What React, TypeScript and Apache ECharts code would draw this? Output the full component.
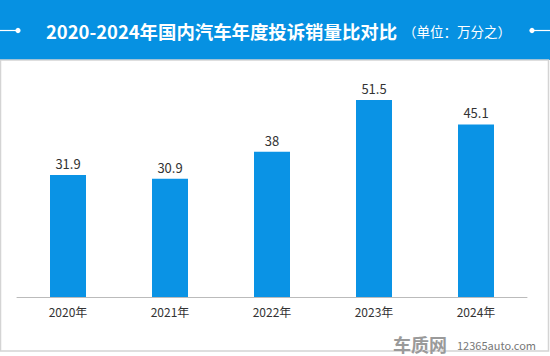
import React, { useEffect, useRef } from "react";
import * as echarts from "echarts";

const categories = ["2020年", "2021年", "2022年", "2023年", "2024年"];
const values = [31.9, 30.9, 38, 51.5, 45.1];
const title = "2020-2024年国内汽车年度投诉销量比对比";
const unit = "（单位：万分之）";

export default function App() {
  const ref = useRef<HTMLDivElement>(null);
  useEffect(() => {
    if (!ref.current) return;
    const chart = echarts.init(ref.current, undefined, { renderer: "svg" });
    const font = "'Noto Sans CJK SC', 'Noto Sans', sans-serif";
    chart.setOption({
      animation: false,
      backgroundColor: "#ffffff",
      grid: { left: 17, right: 23, top: 67.5, bottom: 59 },
      xAxis: {
        type: "category",
        data: categories,
        axisLine: { lineStyle: { color: "#bbbbbb", width: 1 } },
        axisTick: { show: false },
        axisLabel: { color: "#333333", fontSize: 12, margin: 8, fontFamily: font },
      },
      yAxis: { type: "value", min: 0, max: 60, show: false, splitLine: { show: false } },
      series: [
        {
          type: "bar",
          data: values,
          barWidth: 36,
          itemStyle: { color: "#0a93e5" },
          label: {
            show: true,
            position: "top",
            distance: 5,
            color: "#333333",
            fontSize: 13,
            fontFamily: font,
          },
        },
      ],
      graphic: [
        { type: "rect", shape: { x: 0, y: 0, width: 550, height: 60 }, style: { fill: "#0691e2" }, z: 0 },
        { type: "rect", shape: { x: 0.5, y: 60, width: 548, height: 291 }, style: { fill: "none", stroke: "#d4d4d4", lineWidth: 1.5 } },
        { type: "line", shape: { x1: 0, y1: 30.5, x2: 18, y2: 30.5 }, style: { stroke: "#ffffff", lineWidth: 1.2 } },
        { type: "circle", shape: { cx: 18, cy: 30.5, r: 2.6 }, style: { fill: "#ffffff" } },
        { type: "line", shape: { x1: 532, y1: 30.5, x2: 550, y2: 30.5 }, style: { stroke: "#ffffff", lineWidth: 1.2 } },
        { type: "circle", shape: { cx: 532, cy: 30.5, r: 2.6 }, style: { fill: "#ffffff" } },
        {
          type: "text",
          x: 46,
          y: 31,
          style: {
            text: title,
            fill: "#ffffff",
            font: "bold 18.4px " + font,
            verticalAlign: "middle",
          },
        },
        {
          type: "text",
          x: 403,
          y: 31,
          style: {
            text: unit,
            fill: "#ffffff",
            font: "13.5px " + font,
            verticalAlign: "middle",
          },
        },
        {
          type: "text",
          x: 393,
          y: 344,
          style: {
            text: "车质网",
            fill: "#9a9a9a",
            font: "bold 18px " + font,
            verticalAlign: "middle",
          },
        },
        {
          type: "text",
          x: 457,
          y: 345,
          style: {
            text: "12365auto.com",
            fill: "#777777",
            font: "11px " + font,
            verticalAlign: "middle",
          },
        },
      ],
    });
    return () => chart.dispose();
  }, []);
  return (
    <div
      ref={ref}
      style={{ position: "fixed", left: 0, top: 0, width: 550, height: 356 }}
    />
  );
}
